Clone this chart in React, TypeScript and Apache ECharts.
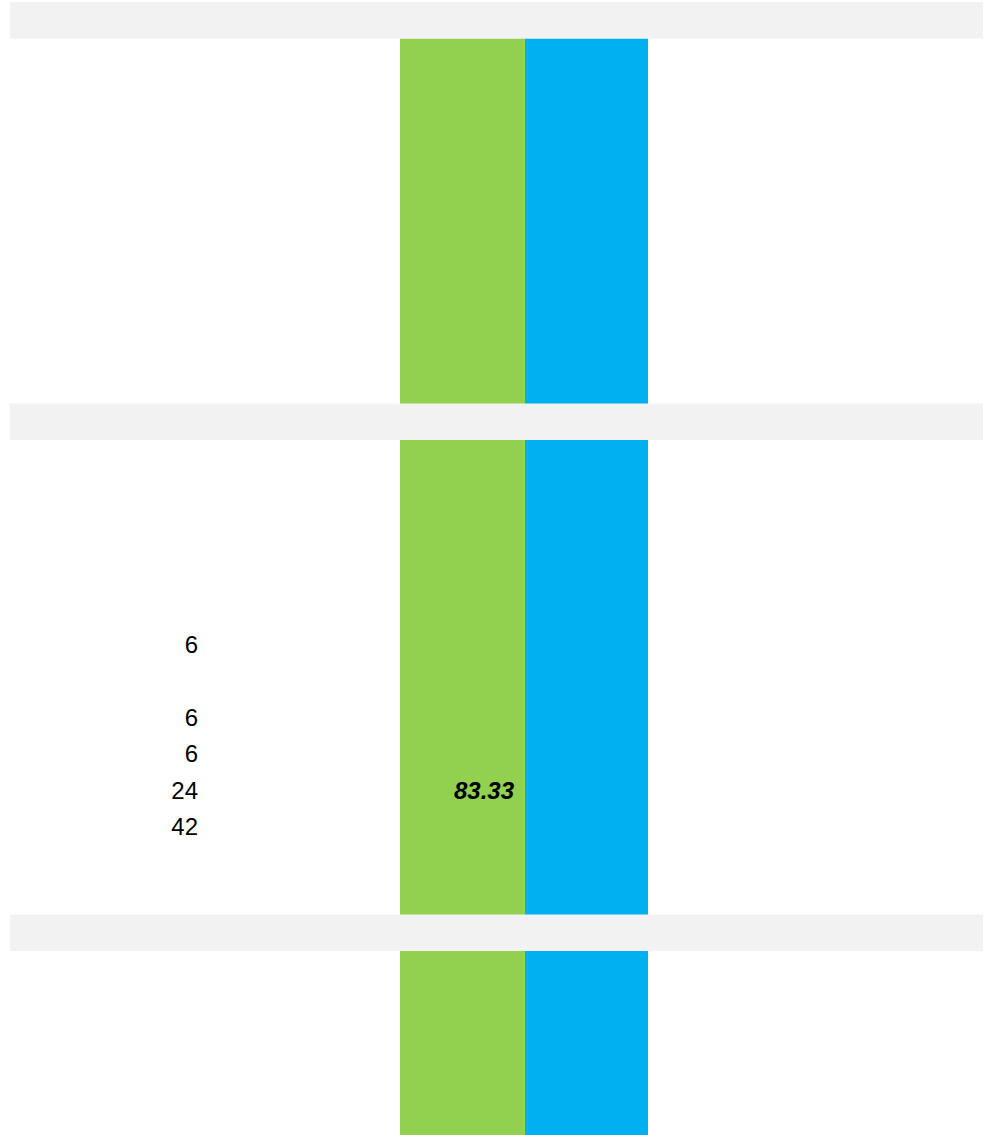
import React, { useEffect, useRef } from "react";
import * as echarts from "echarts";

// ---- data ----
const rowCount = 31;
const headerRows = [0, 11, 25];
const countRows = [17, 19, 20, 21, 22];
const countValues = [6, 6, 6, 24, 42];
const percentRows = [21];
const percentValues = [83.33];

// ---- layout (axis units: x in px-like units, y in rows) ----
const PAGE_W = 984;
const PAGE_H = 1135;
const TOP = 2;
const ROW_H = 36.5;
const GRID_H = PAGE_H - TOP;
const Y_MAX = GRID_H / ROW_H;
const BAND_X0 = 10;
const BAND_X1 = 983;
const GREEN_X0 = 400;
const GREEN_X1 = 525;
const BLUE_X1 = 648;
const COUNT_RIGHT = 198;
const PERCENT_RIGHT = 514;

const COLORS = ["#92D050", "#00B0F0", "#F2F2F2"];
const FONT = '"Liberation Sans", Arial, sans-serif';

export default function App() {
  const ref = useRef<HTMLDivElement>(null);
  useEffect(() => {
    if (!ref.current) return;
    const chart = echarts.init(ref.current, null, { renderer: "svg" });

    const cells: number[][] = [
      [GREEN_X0, GREEN_X1, 1, Y_MAX, 0],
      [GREEN_X1, BLUE_X1, 1, Y_MAX, 1],
      ...headerRows.map((r) => [BAND_X0, BAND_X1, r, r + 1, 2]),
    ];
    const texts: any[] = [
      ...countRows.map((r, i) => [COUNT_RIGHT, r, String(countValues[i]), 0]),
      ...percentRows.map((r, i) => [PERCENT_RIGHT, r, percentValues[i].toFixed(2), 1]),
    ];

    chart.setOption({
      animation: false,
      grid: { left: 0, top: TOP, width: PAGE_W, height: GRID_H },
      xAxis: { type: "value", min: 0, max: PAGE_W, show: false },
      yAxis: { type: "value", min: 0, max: Y_MAX, inverse: true, show: false },
      series: [
        {
          type: "custom",
          coordinateSystem: "cartesian2d",
          data: cells,
          silent: true,
          renderItem: (params: any, api: any) => {
            const p0 = api.coord([api.value(0), api.value(2)]);
            const p1 = api.coord([api.value(1), api.value(3)]);
            return {
              type: "rect",
              shape: { x: p0[0], y: p0[1], width: p1[0] - p0[0], height: p1[1] - p0[1] },
              style: { fill: COLORS[api.value(4)] },
            };
          },
        },
        {
          type: "custom",
          coordinateSystem: "cartesian2d",
          data: texts,
          silent: true,
          z: 5,
          renderItem: (params: any, api: any) => {
            const item = texts[params.dataIndex];
            const p = api.coord([item[0], item[1] + 0.6]);
            const bold = item[3] === 1;
            return {
              type: "text",
              x: p[0],
              y: p[1],
              style: {
                text: item[2],
                fill: "#000000",
                fontSize: 24,
                fontFamily: FONT,
                fontWeight: bold ? "bold" : "normal",
                fontStyle: bold ? "italic" : "normal",
                align: "right",
                verticalAlign: "middle",
              },
            };
          },
        },
      ],
    });
    return () => chart.dispose();
  }, []);

  return (
    <div
      ref={ref}
      style={{ position: "fixed", left: 0, top: 0, width: PAGE_W, height: PAGE_H, background: "#ffffff" }}
    />
  );
}
